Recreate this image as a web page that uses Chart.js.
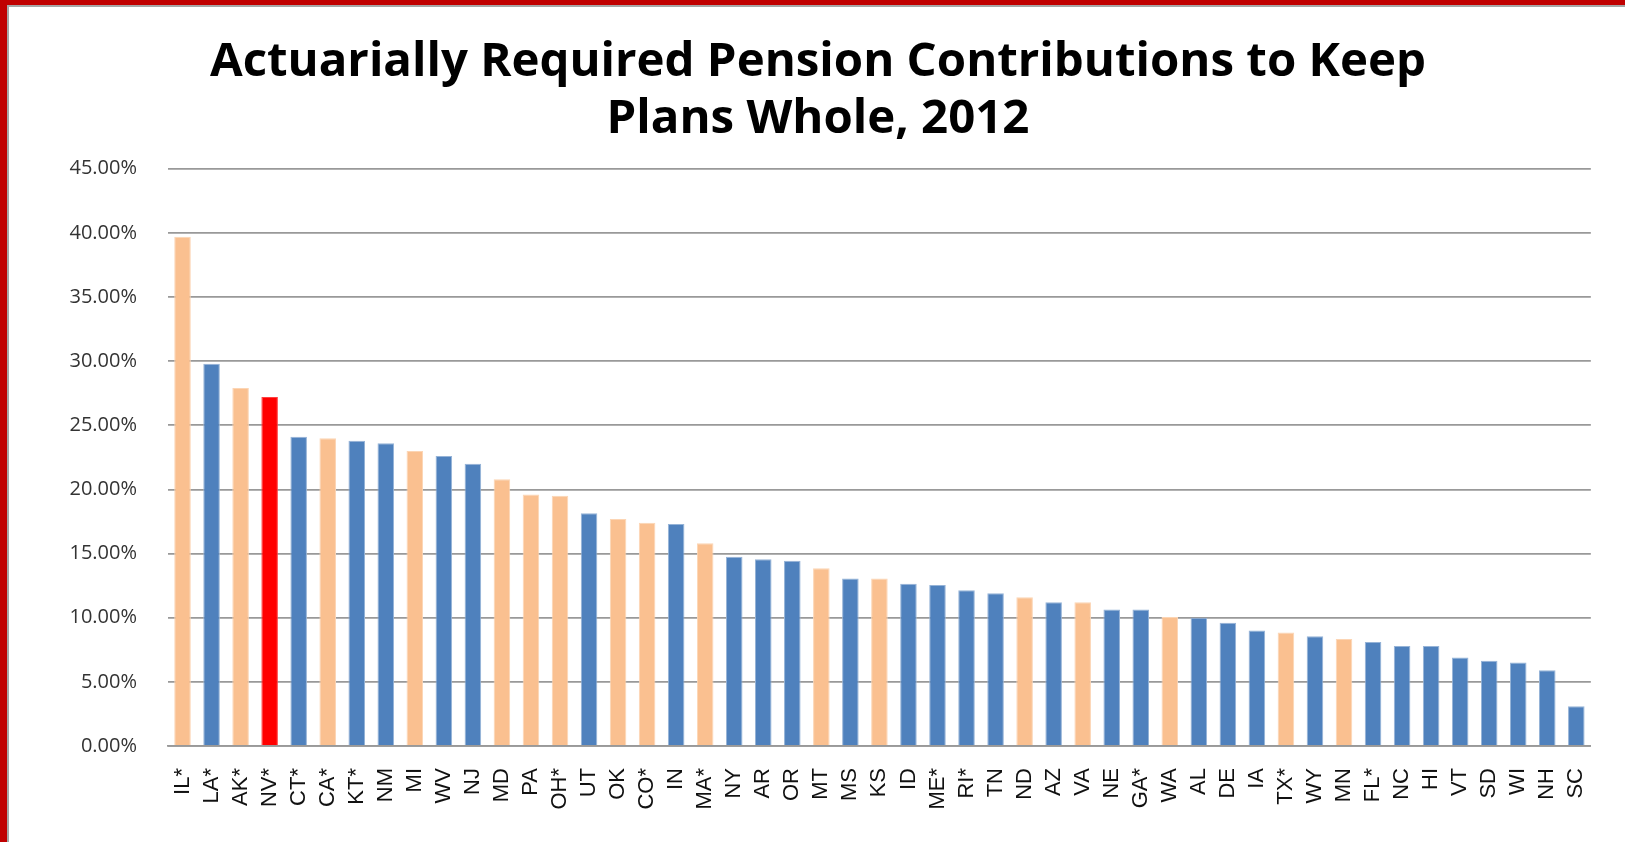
<!DOCTYPE html>
<html>
<head>
<meta charset="utf-8">
<title>Actuarially Required Pension Contributions</title>
<script src="https://cdn.jsdelivr.net/npm/chart.js@4.4.1/dist/chart.umd.min.js"></script>
<style>
  html, body { margin: 0; padding: 0; background: #fff; overflow: hidden; }
  #frame {
    position: fixed; left: 0; top: 0; right: 0; bottom: 0;
    box-sizing: border-box;
    border-left: 7px solid #c00000; border-top: 5px solid #c00000;
    background: #fff;
  }
  #inner {
    position: absolute; left: 0; top: 0; right: 0; bottom: 0;
    border-left: 2px solid #a6a6a6; border-top: 2px solid #a6a6a6;
  }
  #wrap { position: absolute; left: 0; top: 0; width: 1616px; height: 835px; }
</style>
</head>
<body>
<div id="frame"><div id="inner"><div id="wrap"><canvas id="chart"></canvas></div></div></div>
<script>
// states, sorted by required contribution (% of payroll), 2012
const states = ['IL*', 'LA*', 'AK*', 'NV*', 'CT*', 'CA*', 'KT*', 'NM', 'MI', 'WV',
  'NJ', 'MD', 'PA', 'OH*', 'UT', 'OK', 'CO*', 'IN', 'MA*', 'NY',
  'AR', 'OR', 'MT', 'MS', 'KS', 'ID', 'ME*', 'RI*', 'TN', 'ND',
  'AZ', 'VA', 'NE', 'GA*', 'WA', 'AL', 'DE', 'IA', 'TX*', 'WY',
  'MN', 'FL*', 'NC', 'HI', 'VT', 'SD', 'WI', 'NH', 'SC'];

const contributions = [39.7, 29.8, 27.9, 27.2, 24.1, 24.0, 23.8, 23.6, 23.0, 22.6,
  22.0, 20.8, 19.6, 19.5, 18.15, 17.7, 17.4, 17.3, 15.8, 14.75,
  14.55, 14.45, 13.85, 13.05, 13.05, 12.65, 12.55, 12.15, 11.9, 11.6,
  11.2, 11.2, 10.65, 10.65, 10.05, 10.0, 9.6, 9.0, 8.85, 8.55,
  8.35, 8.1, 7.8, 7.8, 6.9, 6.65, 6.5, 5.9, 3.1];

// states shown in the lighter (orange) group, and the highlighted one
const orangeStates = ['IL*', 'AK*', 'CA*', 'MI', 'MD', 'PA', 'OH*', 'OK', 'CO*', 'MA*',
  'MT', 'KS', 'ND', 'VA', 'WA', 'TX*', 'MN'];
const highlighted = 'NV*';

const yTicks = [0, 5, 10, 15, 20, 25, 30, 35, 40, 45];

const fillFor = (s) => s === highlighted ? '#ff0000' : (orangeStates.includes(s) ? '#fac090' : '#4f81bd');
const edgeFor = (s) => s === highlighted ? '#ff4040' : (orangeStates.includes(s) ? '#fcd5b4' : '#95b3d7');

const ctx = document.getElementById('chart').getContext('2d');

new Chart(ctx, {
  type: 'bar',
  data: {
    labels: states,
    datasets: [{
      label: 'Required contribution',
      data: contributions,
      backgroundColor: states.map(fillFor),
      borderColor: states.map(edgeFor),
      borderWidth: 1,
      barPercentage: 0.57,
      categoryPercentage: 1.0
    }]
  },
  options: {
    responsive: true,
    maintainAspectRatio: false,
    animation: false,
    layout: { padding: { left: 30, right: 28, top: 0, bottom: 0 } },
    plugins: {
      legend: { display: false },
      tooltip: { enabled: false },
      title: {
        display: true,
        text: ['Actuarially Required Pension Contributions to Keep', 'Plans Whole, 2012'],
        color: '#000',
        font: { family: 'Open Sans', weight: 'bold', size: 47.4, lineHeight: 1.2 },
        padding: { top: 27, bottom: 21 }
      }
    },
    scales: {
      x: {
        grid: { display: false, drawTicks: false },
        border: { display: true, color: '#999', width: 1.8 },
        ticks: {
          autoSkip: false,
          maxRotation: 90,
          minRotation: 90,
          padding: 22,
          color: '#111',
          font: { family: 'Liberation Sans', size: 22 }
        },
        afterFit: (scale) => { scale.height = 96; }
      },
      y: {
        min: 0,
        max: 45,
        afterBuildTicks: (scale) => { scale.ticks = yTicks.map(v => ({ value: v })); },
        grid: { color: '#999', lineWidth: 1.8, drawTicks: false },
        border: { display: false },
        ticks: {
          padding: 31,
          color: '#333',
          font: { family: 'Open Sans', size: 20 },
          callback: (v) => Number(v).toFixed(2) + '%'
        },
        afterFit: (scale) => { scale.width = 129; }
      }
    }
  }
});
</script>
</body>
</html>
